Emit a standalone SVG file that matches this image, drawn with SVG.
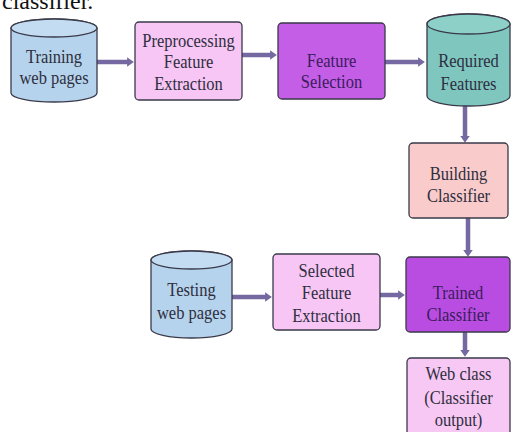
<svg xmlns="http://www.w3.org/2000/svg" width="512" height="432" viewBox="0 0 512 432">
<style>
.box{stroke:#3a3a4a;stroke-width:1.3}
.cyl{stroke:#3a3a4a;stroke-width:1.3}
.ar{stroke:#7668a0;stroke-width:4.5;fill:none;marker-end:url(#ah)}
</style>
<defs>
<marker id="ah" markerWidth="3" markerHeight="4" refX="0.2" refY="2" orient="auto" markerUnits="strokeWidth">
<path d="M0,0.95 L1.5,2 L0,3.05 Z" fill="#7668a0"/>
</marker>
</defs>
<rect width="512" height="432" fill="#fff"/>
<text x="2" y="9" font-family="Liberation Serif, serif" font-size="24" fill="#111">classifier.</text>
<g id="connectors">
<line class="ar" x1="97" y1="62" x2="128" y2="62"/>
<line class="ar" x1="242" y1="55" x2="271" y2="55"/>
<line class="ar" x1="385" y1="62" x2="419" y2="62"/>
<line class="ar" x1="465" y1="104" x2="465" y2="137"/>
<line class="ar" x1="468" y1="218" x2="468" y2="251"/>
<line class="ar" x1="232" y1="297" x2="266" y2="297"/>
<line class="ar" x1="380" y1="295" x2="399" y2="295"/>
<line class="ar" x1="465" y1="332" x2="465" y2="351"/>
</g>
<g font-family="Liberation Serif, serif" font-size="16.5" fill="#2e2e3e" text-anchor="middle">
<g id="training">
<path class="cyl" d="M11,28 A43,9 0 0,1 97,28 L97,93 A43,9 0 0,1 11,93 Z" fill="#b5d3ec"/>
<ellipse cx="54" cy="28" rx="43" ry="9" fill="#c3dcf1" stroke="#3a3a4a" stroke-width="1.3"/>
<text transform="translate(54,63) scale(1,1.2)">Training</text>
<text transform="translate(54,84) scale(1,1.2)">web pages</text>
</g>
<g id="preprocessing">
<rect class="box" x="135" y="22" width="107" height="78" rx="4" fill="#f7c6f5"/>
<text transform="translate(188.5,47) scale(1,1.2)">Preprocessing</text>
<text transform="translate(188.5,68) scale(1,1.2)">Feature</text>
<text transform="translate(188.5,90) scale(1,1.2)">Extraction</text>
</g>
<g id="selection">
<rect class="box" x="278" y="23" width="107" height="76" rx="4" fill="#c45ee7"/>
<text transform="translate(331.5,67) scale(1,1.2)" fill="#3a1c5c">Feature</text>
<text transform="translate(331.5,88) scale(1,1.2)" fill="#3a1c5c">Selection</text>
</g>
<g id="required">
<path class="cyl" d="M427,24 A41.5,10 0 0,1 510,24 L510,96 A41.5,10 0 0,1 427,96 Z" fill="#7fc6bf"/>
<ellipse cx="468.5" cy="24" rx="41.5" ry="10" fill="#8dd0c8" stroke="#3a3a4a" stroke-width="1.3"/>
<text transform="translate(468.5,67) scale(1,1.2)">Required</text>
<text transform="translate(468.5,90) scale(1,1.2)">Features</text>
</g>
<g id="building">
<rect class="box" x="409" y="143" width="99" height="75" rx="4" fill="#f9cbcb"/>
<text transform="translate(458.5,180) scale(1,1.2)">Building</text>
<text transform="translate(458.5,202) scale(1,1.2)">Classifier</text>
</g>
<g id="testing">
<path class="cyl" d="M151,260 A40.5,9 0 0,1 232,260 L232,329 A40.5,9 0 0,1 151,329 Z" fill="#b5d3ec"/>
<ellipse cx="191.5" cy="260" rx="40.5" ry="9" fill="#c3dcf1" stroke="#3a3a4a" stroke-width="1.3"/>
<text transform="translate(191.5,296) scale(1,1.2)">Testing</text>
<text transform="translate(191.5,319) scale(1,1.2)">web pages</text>
</g>
<g id="selected">
<rect class="box" x="273" y="254" width="107" height="76" rx="4" fill="#f7c6f5"/>
<text transform="translate(326.5,277) scale(1,1.2)">Selected</text>
<text transform="translate(326.5,299) scale(1,1.2)">Feature</text>
<text transform="translate(326.5,322) scale(1,1.2)">Extraction</text>
</g>
<g id="trained">
<rect class="box" x="406" y="257" width="104" height="75" rx="4" fill="#b94de1"/>
<text transform="translate(458,299) scale(1,1.2)" fill="#3a1c5c">Trained</text>
<text transform="translate(458,321) scale(1,1.2)" fill="#3a1c5c">Classifier</text>
</g>
<g id="webclass">
<rect class="box" x="407" y="358" width="103" height="80" rx="4" fill="#f7c8f4"/>
<text transform="translate(458.5,380) scale(1,1.2)">Web class</text>
<text transform="translate(458.5,404) scale(1,1.2)">(Classifier</text>
<text transform="translate(458.5,426) scale(1,1.2)">output)</text>
</g>
</g>
</svg>
